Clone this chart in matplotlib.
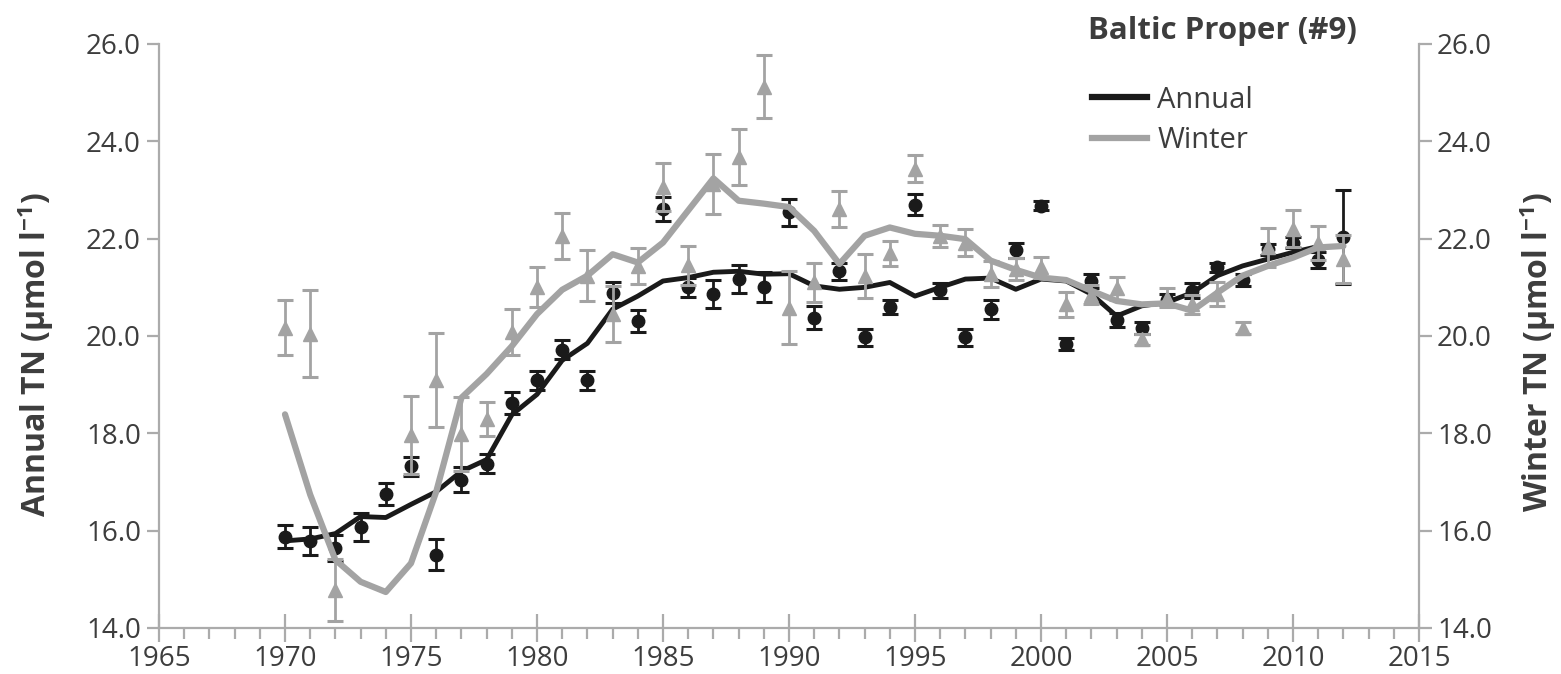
import numpy as np
import matplotlib
matplotlib.use("Agg")
import matplotlib.pyplot as plt
from matplotlib.ticker import MultipleLocator, FormatStrFormatter
from matplotlib.lines import Line2D

plt.rcParams['font.family'] = ['Open Sans', 'DejaVu Sans']

years = list(range(1970, 2013))

annual_mean = [15.88, 15.79, 15.64, 16.08, 16.75, 17.32, 15.51, 17.05, 17.38, 18.62,
               19.09, 19.72, 19.09, 20.89, 20.31, 22.61, 21.00, 20.86, 21.17, 21.01,
               22.54, 20.38, 21.33, 19.97, 20.60, 22.70, 20.94, 19.97, 20.55, 21.76,
               22.68, 19.84, 21.13, 20.33, 20.17, 20.75, 20.93, 21.41, 21.15, 21.78,
               21.92, 21.56, 22.03]
annual_err = [0.23, 0.28, 0.27, 0.29, 0.22, 0.20, 0.31, 0.25, 0.20, 0.22,
              0.20, 0.20, 0.20, 0.22, 0.22, 0.24, 0.20, 0.29, 0.29, 0.31,
              0.28, 0.23, 0.18, 0.17, 0.15, 0.22, 0.15, 0.18, 0.20, 0.15,
              0.10, 0.12, 0.15, 0.15, 0.12, 0.12, 0.15, 0.10, 0.12, 0.12,
              0.12, 0.17, 0.97]
annual_trend = [15.79, 15.83, 15.94, 16.29, 16.27, 16.54, 16.80, 17.22, 17.46, 18.38,
                18.80, 19.50, 19.85, 20.55, 20.82, 21.13, 21.20, 21.31, 21.33, 21.27,
                21.28, 21.03, 20.96, 21.00, 21.10, 20.82, 21.00, 21.17, 21.19, 20.96,
                21.17, 21.13, 20.86, 20.41, 20.62, 20.69, 20.89, 21.24, 21.44, 21.58,
                21.72, 21.84, 21.84]

winter_mean = [20.17, 20.05, 14.78, np.nan, np.nan, 17.97, 19.10, 17.98, 18.29, 20.08,
               21.00, 22.06, 21.24, 20.45, 21.44, 23.06, 21.45, 23.13, 23.68, 25.12,
               20.58, 21.10, 22.61, 21.24, 21.70, 23.44, 22.06, 21.92, 21.27, 21.38,
               21.41, 20.65, 20.85, 20.98, 19.93, 20.79, 20.65, 20.86, 20.16, 21.82,
               22.20, 21.92, 21.58]
winter_err = [0.57, 0.89, 0.63, 0.0, 0.0, 0.80, 0.97, 0.76, 0.35, 0.47,
              0.41, 0.47, 0.52, 0.58, 0.37, 0.50, 0.40, 0.62, 0.57, 0.65,
              0.75, 0.41, 0.36, 0.45, 0.26, 0.27, 0.23, 0.28, 0.27, 0.23,
              0.22, 0.25, 0.20, 0.24, 0.12, 0.20, 0.20, 0.24, 0.12, 0.40,
              0.38, 0.35, 0.50]
winter_trend = [18.39, 16.74, 15.40, 14.95, 14.74, 15.33, 16.80, 18.73, 19.22, 19.79,
                20.45, 20.95, 21.24, 21.68, 21.51, 21.92, 22.58, 23.24, 22.78, 22.72,
                22.65, 22.16, 21.48, 22.06, 22.23, 22.10, 22.06, 21.99, 21.55, 21.36,
                21.20, 21.15, 20.93, 20.72, 20.65, 20.67, 20.52, 20.89, 21.24, 21.44,
                21.61, 21.82, 21.85]

title = "Baltic Proper (#9)"
left_label = r"Annual TN (µmol l$^{\mathregular{-1}}$)"
right_label = r"Winter TN (µmol l$^{\mathregular{-1}}$)"
legend_labels = ["Annual", "Winter"]

BLACK = "#1a1a1a"
GRAY = "#a3a3a3"
SPINE = "#ababab"
TXT = "#3d3d3d"

fig = plt.figure(figsize=(15.61, 6.74), dpi=100)
ax = fig.add_axes([159/1561, 1 - 628/674, (1419 - 159)/1561, (628 - 44)/674])
ax2 = ax.twinx()

# Annual series
ax.errorbar(years, annual_mean, yerr=annual_err, fmt='o', color=BLACK, ms=9,
            ecolor=BLACK, elinewidth=2, capsize=5.5, capthick=2.2, zorder=3)
ax.plot(years, annual_trend, color=BLACK, lw=3.5, zorder=4, solid_capstyle='round')

# Winter series
wm = np.array(winter_mean)
we = np.array(winter_err)
mask = ~np.isnan(wm)
ax2.errorbar(np.array(years)[mask], wm[mask], yerr=we[mask], fmt='^', color=GRAY, ms=10,
             ecolor=GRAY, elinewidth=2, capsize=5.5, capthick=2.2, zorder=3)
ax2.plot(years, winter_trend, color=GRAY, lw=4.5, zorder=4, solid_capstyle='round')

for a in (ax, ax2):
    a.set_ylim(14, 26)
    a.set_xlim(1965, 2015)
    a.yaxis.set_major_locator(MultipleLocator(2))
    a.yaxis.set_major_formatter(FormatStrFormatter('%.1f'))
    a.spines['top'].set_visible(False)
    for s in a.spines.values():
        s.set_color(SPINE)
        s.set_linewidth(1.6)
    a.patch.set_visible(False)

ax.spines['right'].set_visible(False)
ax2.spines['left'].set_visible(False)
ax2.spines['bottom'].set_visible(False)

ax.xaxis.set_major_locator(MultipleLocator(5))
ax.xaxis.set_minor_locator(MultipleLocator(1))
ax.tick_params(axis='x', which='major', direction='inout', length=20, width=1.6,
               color=SPINE, labelsize=20, labelcolor=TXT, pad=2)
ax.tick_params(axis='x', which='minor', direction='out', length=8, width=1.6, color=SPINE)
ax.tick_params(axis='y', which='major', direction='out', length=9, width=1.6,
               color=SPINE, labelsize=20, labelcolor=TXT, pad=4)
ax2.tick_params(axis='y', which='major', direction='out', length=9, width=1.6,
                color=SPINE, labelsize=20, labelcolor=TXT, pad=4)

# Axis titles
fig.text(36/1561, 1 - 355/674, left_label, fontsize=23, fontweight='bold', color=TXT,
         rotation=90, ha='center', va='center')
fig.text(1538/1561, 1 - 352/674, right_label, fontsize=23, fontweight='bold', color=TXT,
         rotation=90, ha='center', va='center')

# Title and legend
fig.text(1088/1561, 1 - 31/674, title, fontsize=22.5, fontweight='bold', color=TXT,
         ha='left', va='center')
handles = [Line2D([], [], color=BLACK, lw=4.5), Line2D([], [], color=GRAY, lw=4.5)]
leg = fig.legend(handles, legend_labels, loc='upper left',
                 bbox_to_anchor=(1080/1561, 1 - 74/674), frameon=False,
                 fontsize=21, handlelength=1.9, handletextpad=0.35, labelspacing=0.4,
                 borderaxespad=0)
for t in leg.get_texts():
    t.set_color(TXT)

fig.savefig("out.png", dpi=100)
